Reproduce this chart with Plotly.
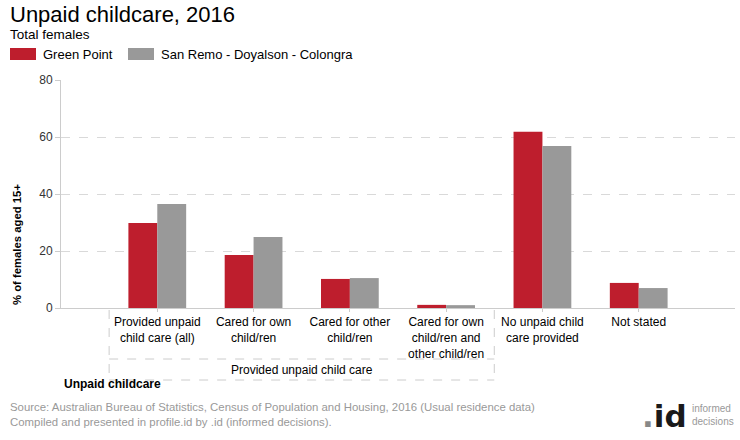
import plotly.graph_objects as go

categories = ["Provided unpaid child care (all)", "Cared for own child/ren",
              "Cared for other child/ren", "Cared for own child/ren and other child/ren",
              "No unpaid child care provided", "Not stated"]
tick_labels = ["Provided unpaid<br>child care (all)", "Cared for own<br>child/ren",
               "Cared for other<br>child/ren", "Cared for own<br>child/ren and<br>other child/ren",
               "No unpaid child<br>care provided", "Not stated"]
green_point = [29.8, 18.6, 10.2, 1.1, 61.8, 8.8]
san_remo = [36.5, 24.9, 10.5, 1.0, 56.8, 7.0]
series_names = ["Green Point", "San Remo - Doyalson - Colongra"]
colors = ["#BE1E2D", "#999999"]
group_label = "Provided unpaid child care"
y_ticks = [0, 20, 40, 60, 80]

FONT = "Liberation Sans, Arial, sans-serif"
W, H = 740, 440
L, R, T, B = 61, 5, 80, 132
PW, PH = W - L - R, H - T - B

def px(x):
    return (x - L) / PW

def py(y):
    return (H - B - y) / PH

fig = go.Figure()
for name, vals, c in zip(series_names, [green_point, san_remo], colors):
    fig.add_trace(go.Bar(x=list(range(len(categories))), y=vals, name=name,
                         marker=dict(color=c, line=dict(width=0)),
                         hovertext=categories, showlegend=False))

shapes = []
ann = []
# legend
lx = [10, 128]
for i, (name, c) in enumerate(zip(series_names, colors)):
    shapes.append(dict(type="rect", xref="paper", yref="paper",
                       x0=px(lx[i]), x1=px(lx[i] + 26), y0=py(60), y1=py(48),
                       fillcolor=c, line=dict(width=0)))
    ann.append(dict(text=name, xref="paper", yref="paper", x=px(lx[i] + 31), y=py(54),
                    xanchor="left", yanchor="middle", showarrow=False,
                    font=dict(family=FONT, size=13, color="#000")))

# title, subtitle
ann.append(dict(text="Unpaid childcare, 2016", xref="paper", yref="paper", x=px(8), y=py(14),
                xanchor="left", yanchor="middle", showarrow=False,
                font=dict(family=FONT, size=22, color="#000")))
ann.append(dict(text="Total females", xref="paper", yref="paper", x=px(8), y=py(34),
                xanchor="left", yanchor="middle", showarrow=False,
                font=dict(family=FONT, size=13.5, color="#000")))
# y title
ann.append(dict(text="<b>% of females aged 15+</b>", xref="paper", yref="paper", x=px(17), y=py(244),
                xanchor="center", yanchor="middle", textangle=-90, showarrow=False,
                font=dict(family=FONT, size=11.3, color="#000")))
# group box
dash = dict(color="#CCCCCC", width=1, dash="dash")
shapes.append(dict(type="line", xref="x", yref="paper", x0=-0.5, x1=-0.5, y0=py(310), y1=py(380), line=dash))
shapes.append(dict(type="line", xref="x", yref="paper", x0=3.5, x1=3.5, y0=py(310), y1=py(380), line=dash))
shapes.append(dict(type="line", xref="x", yref="paper", x0=-0.5, x1=3.5, y0=py(359), y1=py(359), line=dash))
shapes.append(dict(type="line", xref="x", yref="paper", x0=-0.5, x1=3.5, y0=py(380), y1=py(380), line=dash))
ann.append(dict(text=group_label, xref="x", yref="paper", x=1.5, y=py(370),
                xanchor="center", yanchor="middle", showarrow=False,
                font=dict(family=FONT, size=12, color="#000")))
# x title
ann.append(dict(text="<b>Unpaid childcare</b>", xref="paper", yref="paper", x=px(62), y=py(384),
                xanchor="left", yanchor="middle", showarrow=False,
                font=dict(family=FONT, size=12, color="#000")))
# footer
ann.append(dict(text="Source: Australian Bureau of Statistics, Census of Population and Housing, 2016 (Usual residence data)<br>Compiled and presented in profile.id by .id (informed decisions).",
                xref="paper", yref="paper", x=px(8), y=py(414), align="left",
                xanchor="left", yanchor="middle", showarrow=False,
                font=dict(family=FONT, size=11.4, color="#999999")))
ann.append(dict(text="<span style='color:#888888'><b>.</b></span><b>id</b>", xref="paper", yref="paper",
                x=px(689), y=py(416),
                xanchor="right", yanchor="middle", showarrow=False,
                font=dict(family="DejaVu Sans", size=31, color="#1A1A1A")))
ann.append(dict(text="informed<br>decisions", xref="paper", yref="paper", x=px(690), y=py(415),
                xanchor="left", yanchor="middle", showarrow=False, align="left",
                font=dict(family=FONT, size=10, color="#999999")))

fig.update_layout(
    width=W, height=H, margin=dict(l=L, r=R, t=T, b=B),
    paper_bgcolor="white", plot_bgcolor="white",
    barmode="group", bargap=0.4, bargroupgap=0,
    font=dict(family=FONT, size=12, color="#000"),
    shapes=shapes, annotations=ann,
    xaxis=dict(range=[-1, 6], tickvals=list(range(len(categories))), ticktext=tick_labels,
               showline=True, linecolor="#CCCCCC", linewidth=1,
               ticks="outside", ticklen=3, tickcolor="#CCCCCC",
               tickfont=dict(family=FONT, size=12, color="#000"), showgrid=False, zeroline=False),
    yaxis=dict(range=[0, 80], tickvals=y_ticks, showline=True, linecolor="#CCCCCC", linewidth=1,
               ticks="outside", ticklen=5, tickcolor="#CCCCCC",
               showgrid=True, gridcolor="#D9D9D9", griddash="dash", gridwidth=1, zeroline=False,
               tickfont=dict(family=FONT, size=12, color="#333")),
)
fig.write_html("out.html", config={"displayModeBar": False},
               post_script="document.body.style.margin='0px';document.body.style.overflow='hidden';")
